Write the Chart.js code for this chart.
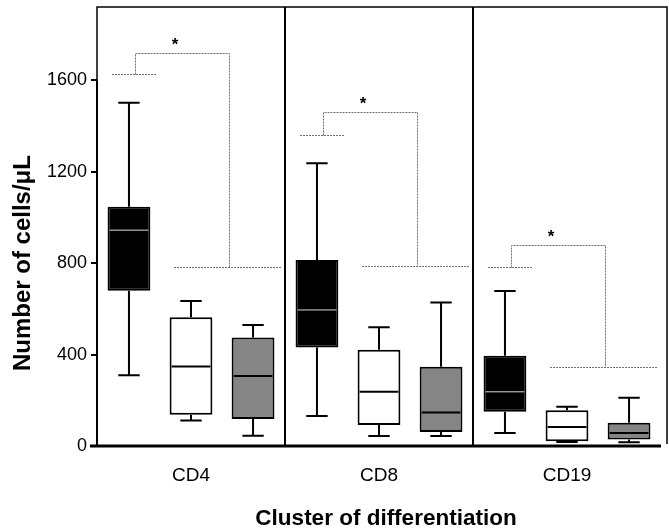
<!DOCTYPE html>
<html>
<head>
<meta charset="utf-8">
<script src="https://cdn.jsdelivr.net/npm/chart.js@4/dist/chart.umd.min.js"></script>
<style>
  html, body { margin: 0; padding: 0; background: #fff; }
  #wrap { width: 669px; height: 531px; }
</style>
</head>
<body>
<div id="wrap"><canvas id="myChart" width="669" height="531"></canvas></div>
<script>
var categories = ['CD4', 'CD8', 'CD19'];
var yTicks = [0, 400, 800, 1200, 1600];

// black boxes
var blackMin = [309, 131, 57];
var blackQ1 = [679, 431, 150];
var blackMedian = [944, 595, 237];
var blackQ3 = [1046, 813, 395];
var blackMax = [1501, 1237, 678];
// white boxes
var whiteMin = [111, 44, 17];
var whiteQ1 = [137, 92, 21];
var whiteMedian = [348, 237, 83];
var whiteQ3 = [563, 421, 156];
var whiteMax = [634, 519, 172];
// gray boxes
var grayMin = [45, 44, 16];
var grayQ1 = [118, 61, 28];
var grayMedian = [306, 147, 57];
var grayQ3 = [475, 347, 102];
var grayMax = [529, 628, 211];

// significance brackets
var sigLow = [1629, 1359, 782];
var sigTop = [1721, 1461, 877];
var sigRef = [783, 786, 346];
var sigMark = ['*', '*', '*'];

var FONT = '"Liberation Sans", Arial, Helvetica, sans-serif';

var boxes = [
    { min: blackMin, q1: blackQ1, med: blackMedian, q3: blackQ3, max: blackMax, fill: '#000000', medColor: '#dcdcdc', medWidth: 1 },
    { min: whiteMin, q1: whiteQ1, med: whiteMedian, q3: whiteQ3, max: whiteMax, fill: '#ffffff', medColor: '#000000', medWidth: 2 },
    { min: grayMin, q1: grayQ1, med: grayMedian, q3: grayQ3, max: grayMax, fill: '#858585', medColor: '#000000', medWidth: 2 }
];

function pairs(lo, hi) {
    return lo.map(function (v, i) { return [v, hi[i]]; });
}

var boxPlugin = {
    id: 'boxWhiskers',
    beforeDatasetsDraw: function (chart) {
        var c = chart.ctx;
        var y = chart.scales.y;
        c.save();
        c.strokeStyle = '#000';
        c.lineWidth = 2;
        boxes.forEach(function (b, d) {
            chart.getDatasetMeta(d).data.forEach(function (bar, i) {
                var half = bar.width / 4;
                var top = y.getPixelForValue(b.max[i]);
                var bot = y.getPixelForValue(b.min[i]);
                c.beginPath();
                c.moveTo(bar.x, top); c.lineTo(bar.x, y.getPixelForValue(b.q3[i]));
                c.moveTo(bar.x - half, top); c.lineTo(bar.x + half, top);
                c.moveTo(bar.x, y.getPixelForValue(b.q1[i])); c.lineTo(bar.x, bot);
                c.moveTo(bar.x - half, bot); c.lineTo(bar.x + half, bot);
                c.stroke();
            });
        });
        c.restore();
    },
    afterDatasetsDraw: function (chart) {
        var c = chart.ctx;
        var x = chart.scales.x;
        var y = chart.scales.y;
        var area = chart.chartArea;
        c.save();

        // medians
        boxes.forEach(function (b, d) {
            chart.getDatasetMeta(d).data.forEach(function (bar, i) {
                var py = y.getPixelForValue(b.med[i]);
                c.strokeStyle = b.medColor;
                c.lineWidth = b.medWidth;
                c.beginPath();
                c.moveTo(bar.x - bar.width / 2 + 2, py);
                c.lineTo(bar.x + bar.width / 2 - 2, py);
                c.stroke();
            });
        });

        // frame and axes
        var frameRight = area.right + 6;
        var y0 = y.getPixelForValue(0);
        var y1600 = y.getPixelForValue(yTicks[yTicks.length - 1]);
        c.strokeStyle = '#000';
        c.lineWidth = 1.5;
        c.beginPath();
        c.moveTo(area.left, y1600);
        c.lineTo(area.left, area.top);
        c.lineTo(frameRight, area.top);
        c.lineTo(frameRight, y0 - 2);
        c.stroke();
        c.lineWidth = 2;
        c.beginPath();
        c.moveTo(area.left, y1600);
        c.lineTo(area.left, y0);
        for (var k = 0; k < categories.length - 1; k++) {
            var dx = (x.getPixelForValue(k) + x.getPixelForValue(k + 1)) / 2;
            c.moveTo(dx, area.top);
            c.lineTo(dx, y0);
        }
        c.stroke();
        c.lineWidth = 3;
        c.beginPath();
        c.moveTo(area.left - 7, y0);
        c.lineTo(area.right, y0);
        c.stroke();

        // brackets
        var W = x.getPixelForValue(1) - x.getPixelForValue(0);
        c.strokeStyle = '#6e6e6e';
        c.lineWidth = 1;
        c.setLineDash([2, 1]);
        categories.forEach(function (cat, i) {
            var cx = x.getPixelForValue(i);
            var lo = Math.round(y.getPixelForValue(sigLow[i])) + 0.5;
            var hi = Math.round(y.getPixelForValue(sigTop[i])) + 0.5;
            var rf = Math.round(y.getPixelForValue(sigRef[i])) + 0.5;
            var xl = Math.round(cx - 0.30 * W) + 0.5;
            var xr = Math.round(cx + 0.202 * W) + 0.5;
            c.beginPath();
            c.moveTo(cx - 0.42 * W, lo); c.lineTo(cx - 0.186 * W, lo);
            c.moveTo(xl, lo); c.lineTo(xl, hi);
            c.lineTo(xr, hi); c.lineTo(xr, rf);
            c.moveTo(cx - 0.09 * W, rf); c.lineTo(cx + 0.48 * W, rf);
            c.stroke();
        });
        c.setLineDash([]);
        c.fillStyle = '#000';
        c.font = 'bold 17px ' + FONT;
        c.textAlign = 'center';
        c.textBaseline = 'alphabetic';
        categories.forEach(function (cat, i) {
            var cx = x.getPixelForValue(i);
            c.fillText(sigMark[i], cx - 0.085 * W, y.getPixelForValue(sigTop[i]) - 3);
        });

        // axis titles
        c.font = 'bold 22.5px ' + FONT;
        c.textBaseline = 'middle';
        c.fillText('Cluster of differentiation', (area.left + frameRight) / 2 + 4, 519);
        c.font = 'bold 24px ' + FONT;
        c.translate(23, (y0 + y1600) / 2);
        c.rotate(-Math.PI / 2);
        c.fillText('Number of cells/\u03bcL', 0, 0);
        c.restore();
    }
};

var ctx = document.getElementById('myChart').getContext('2d');
var myChart = new Chart(ctx, {
    type: 'bar',
    data: {
        labels: categories,
        datasets: boxes.map(function (b) {
            return {
                data: pairs(b.q1, b.q3),
                backgroundColor: b.fill,
                borderColor: '#000',
                borderWidth: 2,
                borderSkipped: false,
                categoryPercentage: 0.99,
                barPercentage: 0.69
            };
        })
    },
    options: {
        responsive: false,
        animation: false,
        layout: { padding: { top: 7, right: 8, left: 0, bottom: 0 } },
        plugins: {
            legend: { display: false },
            tooltip: { enabled: false }
        },
        scales: {
            x: {
                grid: { display: false },
                border: { display: false },
                ticks: { color: '#000', font: { family: FONT, size: 19 }, padding: 10 },
                afterFit: function (s) { s.height = 85; s.paddingLeft = 0; s.paddingRight = 0; }
            },
            y: {
                min: 0,
                max: 1920,
                afterBuildTicks: function (s) {
                    s.ticks = yTicks.map(function (v) { return { value: v }; });
                },
                grid: { drawOnChartArea: false, tickLength: 6, color: '#000', lineWidth: 2 },
                border: { display: false },
                ticks: {
                    color: '#000',
                    font: { family: FONT, size: 18 },
                    padding: 4,
                    callback: function (v) { return String(v); }
                },
                afterFit: function (s) { s.width = 97; s.paddingTop = 0; s.paddingBottom = 0; }
            }
        }
    },
    plugins: [boxPlugin]
});
</script>
</body>
</html>
